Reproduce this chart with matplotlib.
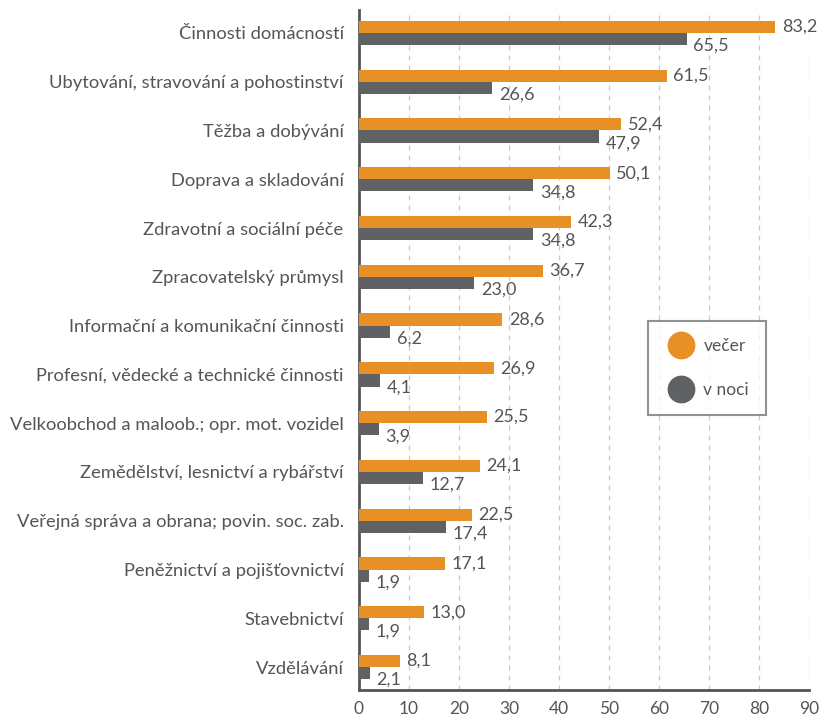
import matplotlib.pyplot as plt
from matplotlib.lines import Line2D

categories = [
    "Činnosti domácností",
    "Ubytování, stravování a pohostinství",
    "Těžba a dobývání",
    "Doprava a skladování",
    "Zdravotní a sociální péče",
    "Zpracovatelský průmysl",
    "Informační a komunikační činnosti",
    "Profesní, vědecké a technické činnosti",
    "Velkoobchod a maloob.; opr. mot. vozidel",
    "Zemědělství, lesnictví a rybářství",
    "Veřejná správa a obrana; povin. soc. zab.",
    "Peněžnictví a pojišťovnictví",
    "Stavebnictví",
    "Vzdělávání",
]
vecer = [83.2, 61.5, 52.4, 50.1, 42.3, 36.7, 28.6, 26.9, 25.5, 24.1, 22.5, 17.1, 13.0, 8.1]
v_noci = [65.5, 26.6, 47.9, 34.8, 34.8, 23.0, 6.2, 4.1, 3.9, 12.7, 17.4, 1.9, 1.9, 2.1]
xticks = [0, 10, 20, 30, 40, 50, 60, 70, 80, 90]

ORANGE = "#E88F26"
GRAY = "#606163"
TXT = "#555555"

plt.rcParams["font.family"] = ["Lato", "DejaVu Sans"]

fig = plt.figure(figsize=(8.19, 7.2), dpi=100)
ax = fig.add_axes([359 / 819, 30 / 720, 450 / 819, 680 / 720])

h = 0.25
ys = list(range(len(categories)))
ax.barh([y - h / 2 for y in ys], vecer, height=h, color=ORANGE, zorder=3)
ax.barh([y + h / 2 for y in ys], v_noci, height=h, color=GRAY, zorder=3)

fmt = lambda v: f"{v:.1f}".replace(".", ",")
for y, v in zip(ys, vecer):
    ax.annotate(fmt(v), (v, y - h / 2), xytext=(5, 0), textcoords="offset points",
                va="center", ha="left", fontsize=13, color=TXT)
for y, v in zip(ys, v_noci):
    ax.annotate(fmt(v), (v, y + h / 2), xytext=(5, -5), textcoords="offset points",
                va="center", ha="left", fontsize=13, color=TXT)

ax.set_yticks(ys)
ax.set_yticklabels(categories, fontsize=13.2, color=TXT)
ax.set_ylim(len(categories) - 0.53, -0.47)
ax.set_xlim(0, 90)
ax.set_xticks(xticks)
ax.set_xticklabels([str(t) for t in xticks], fontsize=12.5, color=TXT)
ax.tick_params(axis="both", length=0)
ax.tick_params(axis="y", pad=11)
ax.tick_params(axis="x", pad=8)

ax.grid(axis="x", color="#C8C8C8", linestyle=(0, (4, 4)), linewidth=0.9, zorder=0)
for s in ["top", "right"]:
    ax.spines[s].set_visible(False)
for s in ["left", "bottom"]:
    ax.spines[s].set_color("#555555")
    ax.spines[s].set_linewidth(2)

handles = [
    Line2D([], [], marker="o", linestyle="", markersize=19, color=ORANGE, label="večer"),
    Line2D([], [], marker="o", linestyle="", markersize=19, color=GRAY, label="v noci"),
]
leg = ax.legend(handles=handles, loc="upper left", bbox_to_anchor=(0.642, 0.543),
                frameon=True, fancybox=False, fontsize=12.5, labelspacing=1.6,
                borderpad=1.0, handletextpad=0.4, handlelength=1.8,
                borderaxespad=0, labelcolor=TXT)
leg.get_frame().set_edgecolor("#777777")
leg.get_frame().set_linewidth(1.5)

fig.savefig("out.png", dpi=100, facecolor="white")
